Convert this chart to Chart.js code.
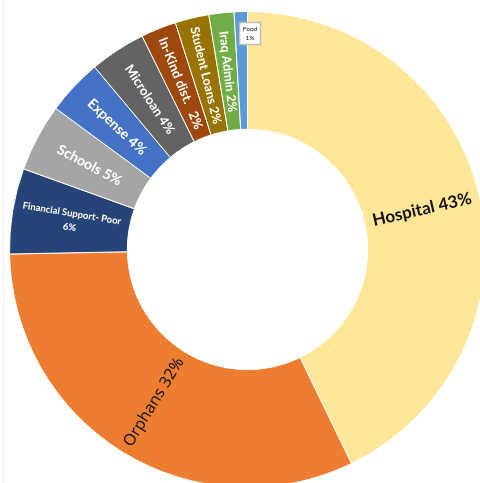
<!DOCTYPE html>
<html>
<head>
<meta charset="utf-8">
<script src="https://cdn.jsdelivr.net/npm/chart.js@4.4.1/dist/chart.umd.min.js"></script>
<style>
  html, body { margin: 0; padding: 0; width: 480px; height: 483px; overflow: hidden; background: #fff; }
  #wrap { position: absolute; left: 0; top: 0; width: 496px; height: 496px; }
  #edge { position: absolute; left: 3px; top: 0; width: 1px; height: 483px; background: #ececec; }
</style>
</head>
<body>
<div id="edge"></div>
<div id="wrap"><canvas id="c"></canvas></div>
<script>
// ---- data ----
const categories = ["Hospital", "Orphans", "Financial Support- Poor", "Schools", "Expense",
                    "Microloan", "In-Kind dist. ", "Student Loans", "Iraq Admin", "Food"];
const values = [42.8, 31.9, 5.8, 4.6, 3.8, 3.8, 2.4, 2.3, 1.7, 0.9];
const percentLabels = ["43%", "32%", "6%", "5%", "4%", "4%", "2%", "2%", "2%", "1%"];

// ---- styles ----
const colors = ["#FFE699", "#ED7D31", "#264478", "#A5A5A5", "#4472C4",
                "#636363", "#9E480E", "#997300", "#70AD47", "#5B9BD5"];
const labelStyles = [
  { size: 17, weight: "bold", color: "#111", sep: " ", font: "Lato" },
  { size: 16, weight: "normal", color: "#111", sep: " ", font: "'Noto Sans'" },
  { size: 9.5, weight: "bold", color: "#fff", sep: "\n", lh: 14, font: "Lato" },
  { size: 14, weight: "bold", color: "#fff", sep: " ", font: "Lato" },
  { size: 14, weight: "bold", color: "#fff", sep: " ", font: "Lato" },
  { size: 13, weight: "bold", color: "#fff", sep: " ", font: "Lato" },
  { size: 13, weight: "bold", color: "#fff", sep: " ", font: "Lato" },
  { size: 12.5, weight: "bold", color: "#fff", sep: " ", font: "Lato" },
  { size: 12.5, weight: "bold", color: "#fff", sep: " ", font: "Lato" },
  { size: 6.5, weight: "normal", color: "#111", sep: "\n", lh: 9, box: true, font: "Lato" }
];

const sliceLabels = {
  id: "sliceLabels",
  afterDatasetsDraw(chart) {
    const ctx = chart.ctx;
    const meta = chart.getDatasetMeta(0);
    meta.data.forEach((arc, i) => {
      const st = labelStyles[i];
      const p = arc.getProps(["x", "y", "startAngle", "endAngle", "innerRadius", "outerRadius"], true);
      const mid = (p.startAngle + p.endAngle) / 2;
      const lines = (categories[i].trimEnd() + (i === 6 ? "  " : "") + st.sep + percentLabels[i]).split("\n");
      ctx.save();
      ctx.font = st.weight + " " + st.size + "px " + st.font + ", sans-serif";
      ctx.textAlign = "center";
      ctx.textBaseline = "middle";
      if (st.box) {
        const r = p.outerRadius - 22;
        const a = mid + 0.04;
        const bx = p.x + Math.cos(a) * r, by = p.y + Math.sin(a) * r;
        const w = 21, h = 22;
        ctx.fillStyle = "#fff";
        ctx.fillRect(bx - w / 2, by - h / 2, w, h);
        ctx.strokeStyle = "#bdbdbd";
        ctx.lineWidth = 1.5;
        ctx.strokeRect(bx - w / 2, by - h / 2, w, h);
        ctx.fillStyle = st.color;
        lines.forEach((t, k) => ctx.fillText(t, bx, by + (k - (lines.length - 1) / 2) * st.lh));
        ctx.restore();
        return;
      }
      const r = (p.innerRadius + p.outerRadius) / 2;
      const px = p.x + Math.cos(mid) * r, py = p.y + Math.sin(mid) * r;
      const rot = Math.cos(mid) >= 0 ? mid : mid + Math.PI;
      ctx.translate(px, py);
      ctx.rotate(rot);
      ctx.fillStyle = st.color;
      const lh = st.lh || st.size * 1.2;
      lines.forEach((t, k) => ctx.fillText(t, 0, (k - (lines.length - 1) / 2) * lh));
      ctx.restore();
    });
  }
};

new Chart(document.getElementById("c"), {
  type: "doughnut",
  data: {
    labels: categories,
    datasets: [{
      data: values,
      backgroundColor: colors,
      borderColor: "#ffffff",
      borderWidth: 1
    }]
  },
  options: {
    responsive: true,
    maintainAspectRatio: false,
    animation: false,
    cutout: "50.5%",
    layout: { padding: { left: 9, top: 11, right: 10, bottom: 8 } },
    plugins: {
      legend: { display: false },
      tooltip: { enabled: false }
    }
  },
  plugins: [sliceLabels]
});
</script>
</body>
</html>
